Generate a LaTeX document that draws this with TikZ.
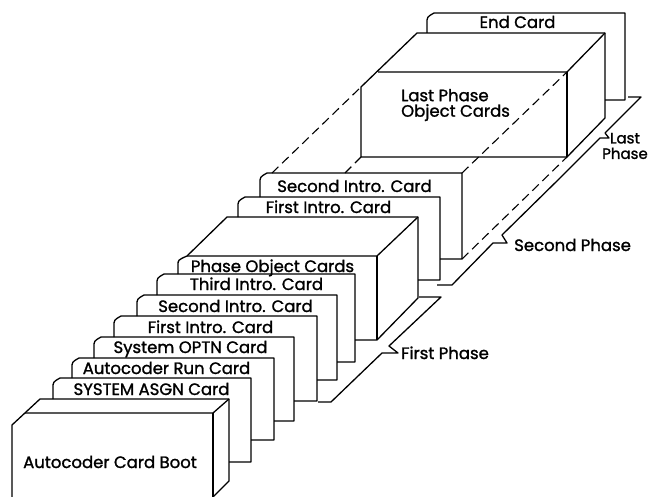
\documentclass[tikz,border=0pt]{standalone}
\usepackage{fontspec}
\setmainfont{Poppins}
\newfontfamily\cardfont{Poppins}[FakeBold=1.3]
\usepackage{tikz}
\usetikzlibrary{
	positioning,
	calc
}

\begin{document}
\begin{tikzpicture}[
    x=1pt,y=-1pt,
	c_card/.style={
		black,
		line width=1.3pt,
		line join=round
	},
	c_ghost/.style={
		black,
		line width=1.1pt,
		dash pattern=on 9pt off 5pt
	},
	c_text/.style={
		font=\cardfont\fontsize{16.5}{15.5}\selectfont,
		inner sep=0pt
	}
	]

			\useasboundingbox (0,0) rectangle (650,497);

			% =========================================================================
			% 1. CARD BOOT (FRONT BOX)
			% =========================================================================

			\draw[c_card]
			(12,497)--(12,425)--(40,399)--(229,399)--(229,481)--(213,497);

			\draw[c_card]
			(25,413)--(213,413)--(229,399);

			\draw[c_card]
			(213,413)--(213,497);

			\node[c_text,anchor=base] (boot) at (110,468) {Autocoder Card Boot};

			% =========================================================================
			% 2. FIRST PHASE DECK
			% =========================================================================

			% left / top / right / bottom / foot of left edge / end of stub
			\foreach \l/\t/\r/\b/\u/\s in
			{53/378/251/462/399/229,
			 72/358/274/440/378/251,
			 94/337/294/421/358/274,
			 114/316/317/401/337/294,
			 137/295/337/380/316/317,
			 157/274/355/362/295/337}
			{
				\draw[c_card]
				(\l,\u)--(\l,\t+10) .. controls (\l,\t+4) .. (\l+7,\t)
				--(\r,\t)--(\r,\b)--(\s,\b);
			}

			\node[c_text,anchor=base] (asgn) at (151.5,395) {SYSTEM ASGN Card};
			\node[c_text,anchor=base] (run) at (166.5,374) {Autocoder Run Card};
			\node[c_text,anchor=base] (optn) at (190.5,353) {System OPTN Card};
			\node[c_text,anchor=base] (introa) at (210.5,333) {First Intro. Card};
			\node[c_text,anchor=base] (introb) at (235.5,312) {Second Intro. Card};
			\node[c_text,anchor=base] (introc) at (256.5,290) {Third Intro. Card};

			% Phase object box
			\draw[c_card]
			(178,274)--(178,265) .. controls (178,260) .. (187,256)
			--(227,217)--(418,217)--(418,298)--(377,340)--(355,340);

			\draw[c_card]
			(187,256)--(377,256)--(418,217);

			\draw[c_card]
			(377,256)--(377,340);

			\node[c_text,anchor=base] (phobj) at (272.5,272) {Phase Object Cards};

			% =========================================================================
			% 3. SECOND PHASE DECK
			% =========================================================================

			\foreach \l/\t/\r/\b/\u/\s in
			{238/197/440/280/217/418,
			 260/173/462/259/197/440}
			{
				\draw[c_card]
				(\l,\u)--(\l,\t+10) .. controls (\l,\t+4) .. (\l+7,\t)
				--(\r,\t)--(\r,\b)--(\s,\b);
			}

			\node[c_text,anchor=base] (introd) at (328.5,213) {First Intro. Card};
			\node[c_text,anchor=base] (introe) at (354.5,192) {Second Intro. Card};

			% Hidden cards
			\draw[c_ghost] (272,173)--(361,87);
			\draw[c_ghost] (345,173)--(361,157);
			\draw[c_ghost] (462,173)--(567,72);
			\draw[c_ghost] (462,259)--(567,157);

			% =========================================================================
			% 4. LAST PHASE
			% =========================================================================

			\draw[c_card]
			(361,157)--(361,87)--(417,33)--(605,33)--(605,118)--(567,157)--cycle;

			\draw[c_card]
			(378,72)--(567,72)--(605,33);

			\draw[c_card]
			(567,72)--(567,157);

			\node[c_text,anchor=west,align=left] (lastobj) at (401,105)
			{Last Phase\\Object Cards};

			% End card
			\draw[c_card]
			(427,33)--(427,23) .. controls (427,17) .. (434,13)
			--(625,13)--(625,100)--(605,100);

			\node[c_text,anchor=base] (endc) at (517.5,28) {End Card};

			% =========================================================================
			% 5. PHASE MARKERS
			% =========================================================================

			\draw[c_card]
			(318,402)--(331,402)--(382,353)--(398,353)--(389,346)--(441,297)--(419,297);

			\draw[c_card]
			(437,285)--(452,285)--(493,243)--(507,243)--(502,235)--(560,178);

			\draw[c_card]
			(560,178)--(600,138)--(609,138)--(605,133)--(641,97)--(628,97);

			\node[c_text,anchor=base west] (firstph) at (401,359) {First Phase};
			\node[c_text,anchor=base west] (secondph) at (514,251) {Second Phase};
			\node[c_text,align=center,font=\cardfont\fontsize{15}{15.5}\selectfont]
			(lastph) at (625,146) {Last\\Phase};

		\end{tikzpicture}
\end{document}
